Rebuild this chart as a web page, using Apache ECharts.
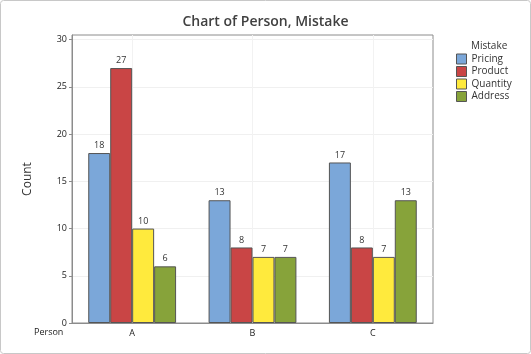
<!DOCTYPE html>
<html>
<head>
<meta charset="utf-8">
<script src="https://cdn.jsdelivr.net/npm/echarts@6/dist/echarts.min.js"></script>
<style>
  html, body { margin: 0; padding: 0; background: #fff; }
  #chart { width: 531px; height: 354px; }
</style>
</head>
<body>
<div id="chart"></div>
<script>
// categories and values
var persons = ['A', 'B', 'C'];
var mistakes = ['Pricing', 'Product', 'Quantity', 'Address'];
var pricing = [18, 13, 17];
var product = [27, 8, 8];
var quantity = [10, 7, 7];
var address = [6, 7, 13];
var yTicks = [0, 5, 10, 15, 20, 25, 30];

var colors = ['#7BA7D9', '#C94545', '#FFEA3D', '#87A33A'];
var values = [pricing, product, quantity, address];
var font = '"Open Sans", "Noto Sans", sans-serif';

var myChart = echarts.init(document.getElementById('chart'));

var series = mistakes.map(function (name, i) {
    return {
        name: name,
        type: 'bar',
        data: values[i],
        barGap: 0,
        barCategoryGap: '27%',
        itemStyle: { color: colors[i], borderColor: '#555', borderWidth: 1 },
        label: { show: true, position: 'top', distance: 3, fontSize: 9, color: '#333', fontFamily: font },
        emphasis: { disabled: true }
    };
});

var option = {
    animation: false,
    color: colors,
    textStyle: { fontFamily: font },
    title: {
        text: 'Chart of Person, Mistake',
        left: 'center',
        top: 10,
        textStyle: { fontSize: 14, fontWeight: 600, color: '#404040', fontFamily: font }
    },
    grid: {
        left: 72, right: 98, top: 35, bottom: 31,
        show: true, borderColor: '#8c8c8c', borderWidth: 1
    },
    legend: {
        orient: 'vertical',
        left: 456,
        top: 53,
        padding: 0,
        itemWidth: 10,
        itemHeight: 10,
        itemGap: 0.5,
        icon: 'rect',
        data: mistakes,
        textStyle: { fontSize: 10, color: '#333', fontFamily: font, lineHeight: 12 },
        itemStyle: { borderColor: '#555', borderWidth: 1 }
    },
    xAxis: {
        type: 'category',
        data: persons,
        axisLine: { lineStyle: { color: '#8c8c8c' } },
        axisTick: { alignWithLabel: true, length: 3, lineStyle: { color: '#8c8c8c' } },
        axisLabel: { fontSize: 9, color: '#222', margin: 6 },
        splitLine: { show: true, alignWithLabel: true, lineStyle: { color: '#f2f2f2' } }
    },
    yAxis: {
        type: 'value',
        min: 0,
        max: 30.5,
        name: 'Count',
        nameLocation: 'middle',
        nameGap: 38,
        nameTextStyle: { fontSize: 12, color: '#333' },
        axisLine: { show: true, lineStyle: { color: '#8c8c8c' } },
        axisTick: { show: true, length: 3, customValues: yTicks, lineStyle: { color: '#8c8c8c' } },
        axisLabel: { fontSize: 9, color: '#222', margin: 5, customValues: yTicks },
        splitLine: { show: true, lineStyle: { color: '#f0f0f0' } }
    },
    graphic: [
        {
            type: 'rect',
            shape: { x: 0.5, y: 0.5, width: 530, height: 353, r: 3 },
            style: { fill: 'none', stroke: '#c8c8c8', lineWidth: 1 },
            silent: true
        },
        {
            type: 'text',
            left: 471,
            top: 41,
            style: { text: 'Mistake', fill: '#333', font: '10px ' + font }
        },
        {
            type: 'text',
            left: 34,
            top: 328,
            style: { text: 'Person', fill: '#222', font: '9px ' + font }
        }
    ],
    series: series
};

myChart.setOption(option, true);
</script>
</body>
</html>
